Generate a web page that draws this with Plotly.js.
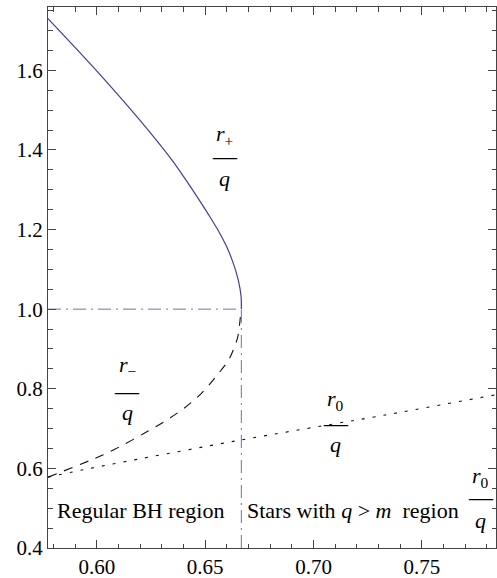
<!DOCTYPE html>
<html>
<head>
<meta charset="utf-8">
<script src="https://cdn.plot.ly/plotly-3.0.1.min.js"></script>
<style>html,body{margin:0;padding:0;background:#fff;}#chart{width:497px;height:578px;}</style>
</head>
<body>
<div id="chart"></div>
<script>
// r+/q curve (solid blue)
const xPlus = [0.5775, 0.5984, 0.6192, 0.6353, 0.6407, 0.6461, 0.6515, 0.6561, 0.6600, 0.6630, 0.6653, 0.6666, 0.6667];
const rPlus = [1.730, 1.608, 1.479, 1.370, 1.328, 1.284, 1.238, 1.197, 1.156, 1.115, 1.073, 1.031, 1.000];
// r-/q curve (dashed)
const xMinus = [0.5775, 0.5969, 0.6030, 0.6122, 0.6215, 0.6307, 0.6403, 0.6484, 0.6552, 0.6612, 0.6650, 0.6662, 0.6667];
const rMinus = [0.578, 0.620, 0.634, 0.659, 0.687, 0.716, 0.751, 0.789, 0.832, 0.876, 0.929, 0.977, 1.000];
// r0/q line (dotted)
const xZero = [0.5775, 0.5969, 0.6661, 0.7330, 0.7842];
const rZero = [0.578, 0.600, 0.671, 0.734, 0.785];
// boundary dash-dot lines
const hX = [0.5775, 0.6667], hY = [1.0, 1.0];
const vX = [0.6667, 0.6667], vY = [0.4, 1.0];
// ticks
const xTicks = [0.60, 0.65, 0.70, 0.75];
const xTickText = ["0.60", "0.65", "0.70", "0.75"];
const yTicks = [0.4, 0.6, 0.8, 1.0, 1.2, 1.4, 1.6];
const yTickText = ["0.4", "0.6", "0.8", "1.0", "1.2", "1.4", "1.6"];
// labels
const regionLabels = ["Regular BH region", "Stars with <i>q</i> &gt; <i>m</i>  region"];

const serif = "Liberation Serif";
const blue = "#3f3f9e";
const dashBlue = "#6675b3";

const traces = [
  {x: hX, y: hY, mode: "lines", line: {color: dashBlue, width: 1, dash: "13px,5px,2px,5px"}, hoverinfo: "skip"},
  {x: vX, y: vY, mode: "lines", line: {color: dashBlue, width: 1, dash: "13px,5px,2px,5px"}, hoverinfo: "skip"},
  {x: xPlus, y: rPlus, mode: "lines", line: {color: blue, width: 1.2, shape: "spline", smoothing: 0.8}},
  {x: xMinus, y: rMinus, mode: "lines", line: {color: "#111", width: 1.1, dash: "9px,8px", shape: "spline", smoothing: 0.8}},
  {x: xZero, y: rZero, mode: "lines", line: {color: "#111", width: 1.1, dash: "3px,8px", shape: "spline", smoothing: 0.6}}
];

const fnt = {family: serif, size: 22, color: "#000"};
const barFnt = {family: serif, size: 24, color: "#000"};
function frac(num, x, yNum, yBar, yDen) {
  return [
    {text: num, x: x, y: yNum, xref: "x", yref: "y", showarrow: false, font: fnt},
    {text: "—", x: x, y: yBar, xref: "x", yref: "y", showarrow: false, font: barFnt},
    {text: "<i>q</i>", x: x, y: yDen, xref: "x", yref: "y", showarrow: false, font: fnt}
  ];
}
const annotations = [].concat(
  frac("<i>r</i><sub>+</sub>", 0.6590, 1.437, 1.384, 1.329),
  frac("<i>r</i><sub>−</sub>", 0.6140, 0.857, 0.794, 0.741),
  frac("<i>r</i><sub>0</sub>", 0.7103, 0.772, 0.715, 0.659),
  frac("<i>r</i><sub>0</sub>", 0.7772, 0.579, 0.529, 0.470),
  [
    {text: regionLabels[0], x: 0.5807, y: 0.495, xref: "x", yref: "y", xanchor: "left", showarrow: false, font: fnt},
    {text: regionLabels[1], x: 0.6684, y: 0.495, xref: "x", yref: "y", xanchor: "left", showarrow: false, font: fnt}
  ]
);

function axis(extra) {
  return Object.assign({
    showgrid: false, zeroline: false, showline: true, linecolor: "#444", linewidth: 1,
    mirror: "allticks", ticks: "inside", ticklen: 8, tickcolor: "#444", tickwidth: 1,
    tickfont: {family: serif, size: 21, color: "#000"}
  }, extra);
}

const layout = {
  width: 497, height: 578,
  font: {family: serif, size: 21, color: "#000"},
  margin: {l: 48, r: 1, t: 7, b: 30, pad: 0},
  paper_bgcolor: "#fff", plot_bgcolor: "#fff",
  showlegend: false,
  xaxis: axis({
    range: [0.5775, 0.7842], tickmode: "array", tickvals: xTicks, ticktext: xTickText,
    minor: {dtick: 0.01, tick0: 0.6, ticks: "inside", ticklen: 4.5, tickcolor: "#444", tickwidth: 1}
  }),
  yaxis: axis({
    range: [0.4, 1.759], tickmode: "array", tickvals: yTicks, ticktext: yTickText,
    minor: {dtick: 0.05, tick0: 0.4, ticks: "inside", ticklen: 4.5, tickcolor: "#444", tickwidth: 1}
  }),
  annotations: annotations
};

Plotly.newPlot("chart", traces, layout, {displayModeBar: false, staticPlot: true});
</script>
</body>
</html>
